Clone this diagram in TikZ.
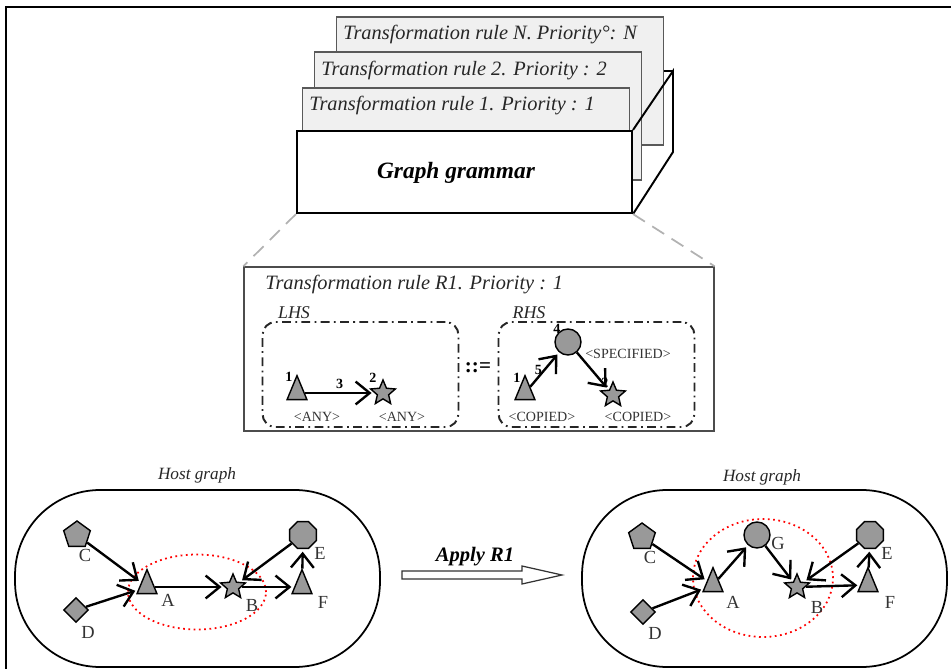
\documentclass[tikz,border=0pt]{standalone}
\usepackage{fontspec}
\setmainfont{Liberation Serif}
\usetikzlibrary{shapes.geometric, arrows.meta, positioning}
\tikzstyle{card} = [rectangle, draw=black!65, fill=black!6, line width=0.8pt, minimum width=6.54cm, minimum height=2.56cm]
\tikzstyle{cardtext} = [anchor=west, inner sep=0pt, font=\fontsize{11.6}{13}\selectfont\itshape, text=black!85]
\tikzstyle{front} = [rectangle, draw=black, fill=white, line width=1.2pt, minimum width=6.7cm, minimum height=1.64cm]
\tikzstyle{frontname} = [inner sep=0pt, font=\fontsize{13.3}{15}\selectfont\bfseries\itshape]
\tikzstyle{rulebox} = [rectangle, draw=black!70, line width=0.8pt, minimum width=9.4cm, minimum height=3.28cm]
\tikzstyle{side} = [rectangle, draw=black!85, line width=1.1pt, rounded corners=0.26cm, dash pattern=on 5pt off 2.5pt on 1pt off 2.5pt, minimum width=3.92cm, minimum height=2.1cm]
\tikzstyle{sidename} = [inner sep=0pt, font=\fontsize{10.2}{12}\selectfont\itshape, text=black!85]
\tikzstyle{hostzone} = [rectangle, draw=black, line width=1pt, rounded corners=1.7cm, minimum width=7.3cm, minimum height=3.54cm]
\tikzstyle{hostname} = [inner sep=0pt, font=\fontsize{9.8}{12}\selectfont\itshape, text=black!85]
\tikzstyle{matchzone} = [ellipse, draw=red, dotted, line width=1pt]
\tikzstyle{vertex} = [draw=black, fill=black!40, line width=0.8pt, inner sep=0pt]
\tikzstyle{tri} = [vertex, isosceles triangle, isosceles triangle apex angle=45, shape border rotate=90, minimum height=0.48cm]
\tikzstyle{starv} = [vertex, star, star points=5, star point ratio=2.2, minimum size=0.52cm]
\tikzstyle{penta} = [vertex, regular polygon, regular polygon sides=5, minimum size=0.56cm]
\tikzstyle{rhomb} = [vertex, diamond, minimum size=0.5cm]
\tikzstyle{octa} = [vertex, regular polygon, regular polygon sides=8, minimum size=0.58cm]
\tikzstyle{roundv} = [vertex, circle, minimum size=0.52cm]
\tikzstyle{vname} = [inner sep=0pt, font=\fontsize{10.5}{12}\selectfont, text=black!80]
\tikzstyle{numlabel} = [inner sep=0pt, font=\fontsize{8}{9}\selectfont\bfseries]
\tikzstyle{tag} = [inner sep=0pt, font=\fontsize{8}{9}\selectfont, text=black!80]
\tikzstyle{link} = [line width=1.35pt, shorten >=1.5pt, -{Straight Barb[length=8pt, width=13pt]}]
\tikzstyle{zoomline} = [draw=black!30, line width=1pt, dash pattern=on 8pt off 5pt]
\tikzstyle{applyarrow} = [draw=black!80, fill=white, line width=0.7pt, line join=miter]
\tikzstyle{applytext} = [inner sep=0pt, font=\fontsize{11.7}{13}\selectfont\bfseries\itshape]

\begin{document}
\begin{tikzpicture}[x=0.02cm, y=-0.02cm]
\useasboundingbox (0,0) rectangle (951,669);
\draw[line width=1.2pt] (6,669) -- (6,7) -- (951,7);

% graph grammar with its stack of rules
\coordinate (backtop) at (673,71);
\coordinate (backbottom) at (673,152);
\draw[line width=1.1pt] (600,71) -- (backtop);
\node (cardN) [card] at (500,81) {};
\node (card2) [card] at (478,116) {};
\node (card1) [card, minimum height=2.4cm] at (466,148) {};
\node (textN) [cardtext] at (343,35) {Transformation rule N. Priority°: N};
\node (text2) [cardtext] at (321,71) {Transformation rule 2. Priority : 2};
\node (text1) [cardtext] at (309,106) {Transformation rule 1. Priority : 1};
\node (grammar) [front] at (464.5,172) {};
\node (grammarname) [frontname] at (456,173) {Graph grammar};
\draw[line width=1.1pt] (grammar.north east) -- (backtop) -- (backbottom) -- (grammar.south east);

% rule R1
\node (rule) [rulebox] at (479,349) {};
\draw[zoomline] (grammar.south west) -- (rule.north west);
\draw[zoomline] (grammar.south east) -- (rule.north east);
\node (ruletitle) [cardtext] at (265,285) {Transformation rule R1. Priority : 1};
\node (lhs) [side] at (360.5,374.5) {};
\node (rhs) [side] at (596.5,374.5) {};
\node (lhsname) [sidename] at (294,313) {LHS};
\node (rhsname) [sidename] at (529,313) {RHS};
\node (produces) [inner sep=0pt, font=\fontsize{12}{14}\selectfont\bfseries] at (478,368) {::=};

\node (lhsA) [tri] at (297,393) {};
\node (lhsB) [starv] at (383,393) {};
\node (rhsA) [tri] at (525,393) {};
\node (rhsG) [roundv] at (568,342) {};
\node (rhsB) [starv] at (613,395) {};
\node [numlabel] at (289,377) {1};
\node [numlabel] at (373,378) {2};
\node [numlabel] at (517,378) {1};
\node [numlabel] at (557,329) {4};
\node [numlabel] at (605,383) {2};
\node [tag] at (317,417) {<ANY>};
\node [tag] at (402,417) {<ANY>};
\node [tag] at (542,417) {<COPIED>};
\node [tag] at (638,417) {<COPIED>};
\node [tag] at (628,354) {<SPECIFIED>};
\draw[link] (lhsA) -- node[numlabel, above=2pt] {3} (lhsB);
\draw[link] (rhsA) -- node[numlabel, left=1pt] {5} (rhsG);
\draw[link] (rhsG) -- (rhsB);

% host graph before
\node (lefthost) [hostzone] at (197.5,578.5) {};
\node (lefthostname) [hostname] at (197,475) {Host graph};
\node (leftmatch) [matchzone, minimum width=2.76cm, minimum height=1.5cm] at (197,592) {};
\node (leftC) [penta] at (77,535) {};
\node (leftD) [rhomb] at (76,610) {};
\node (leftA) [tri] at (147,587) {};
\node (leftB) [starv] at (233,587) {};
\node (leftE) [octa] at (303,535) {};
\node (leftF) [tri] at (302,587) {};
\node [vname] at (85,555) {C};
\node [vname] at (88,632) {D};
\node [vname] at (168,600) {A};
\node [vname] at (252,605) {B};
\node [vname] at (320,553) {E};
\node [vname] at (323,602) {F};
\draw[link] (leftC) -- (leftA);
\draw[link] (leftD) -- (leftA);
\draw[link] (leftA) -- (leftB);
\draw[link] (leftE) -- (leftB);
\draw[link] (leftB) -- (leftF);
\draw[link] (leftF) -- (leftE);

% apply
\draw[applyarrow] (402,571) -- (522,571) -- (522,566) -- (562,575) -- (522,584) -- (522,579) -- (402,579) -- cycle;
\node (applyname) [applytext] at (475,557) {Apply R1};

% host graph after
\node (righthost) [hostzone] at (764.5,578.5) {};
\node (righthostname) [hostname] at (762,477) {Host graph};
\node (rightmatch) [matchzone, minimum width=2.8cm, minimum height=2.36cm] at (763,578) {};
\node (rightC) [penta] at (642,537) {};
\node (rightD) [rhomb] at (643,612) {};
\node (rightA) [tri] at (713,585) {};
\node (rightG) [roundv] at (757,535) {};
\node (rightB) [starv] at (797,587) {};
\node (rightE) [octa] at (870,535) {};
\node (rightF) [tri] at (868,585) {};
\node [vname] at (650,557) {C};
\node [vname] at (655,633) {D};
\node [vname] at (733,602) {A};
\node [vname] at (778,543) {G};
\node [vname] at (817,607) {B};
\node [vname] at (887,553) {E};
\node [vname] at (890,602) {F};
\draw[link] (rightC) -- (rightA);
\draw[link] (rightD) -- (rightA);
\draw[link] (rightA) -- (rightG);
\draw[link] (rightG) -- (rightB);
\draw[link] (rightE) -- (rightB);
\draw[link] (rightB) -- (rightF);
\draw[link] (rightF) -- (rightE);
\end{tikzpicture}
\end{document}
